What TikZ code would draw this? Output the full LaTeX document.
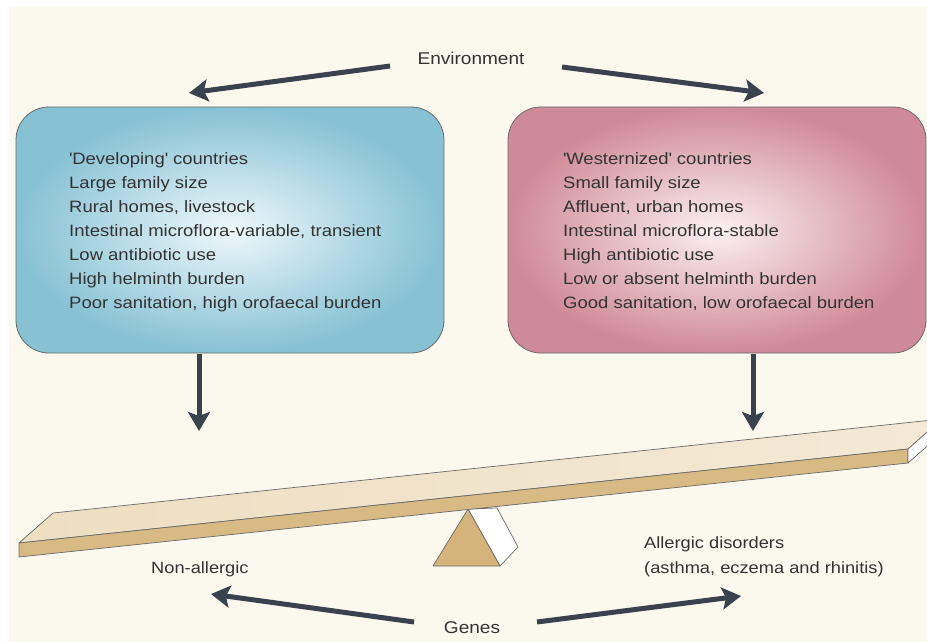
\documentclass[tikz,border=0pt]{standalone}
\usepackage{fontspec}
\setmainfont{Liberation Sans}[FakeStretch=1.12]
\usetikzlibrary{arrows.meta}
\definecolor{bgcream}{HTML}{FBF8EE}
\definecolor{blueout}{HTML}{86C1D4}
\definecolor{bluein}{HTML}{EEF8FB}
\definecolor{pinkout}{HTML}{CF8A97}
\definecolor{pinkin}{HTML}{FCF0F2}
\definecolor{arrowc}{HTML}{3A4250}
\definecolor{boardtopL}{HTML}{EEDFC2}
\definecolor{boardtopR}{HTML}{F3E9D5}
\definecolor{boardfront}{HTML}{D8BB84}
\definecolor{fulc}{HTML}{D5B47C}
\definecolor{outl}{HTML}{6A6A6A}
\definecolor{txt}{HTML}{333333}
\tikzset{
  bigarrow/.style={draw=arrowc, line width=5pt, -{Stealth[length=19pt,width=22pt,inset=4pt]}},
  boxtext/.style={anchor=base west, inner sep=0pt, text=txt, font=\fontsize{16.5}{24}\selectfont},
  lbl/.style={inner sep=0pt, text=txt, font=\fontsize{17}{24}\selectfont},
  sublbl/.style={anchor=base west, inner sep=0pt, text=txt, font=\fontsize{16.3}{24}\selectfont},
  solid3d/.style={draw=outl, line width=0.7pt, line join=round},
}
\begin{document}
\begin{tikzpicture}[x=1pt,y=-1pt]
\useasboundingbox (0,0) rectangle (927,642);
\fill[white] (0,0) rectangle (927,642);
\fill[bgcream] (9,7) rectangle (927,642);

% boxes
\shade[inner color=bluein, outer color=blueout, rounded corners=33pt] (16,107) rectangle (444,353);
\draw[outl, line width=0.8pt, rounded corners=33pt] (16,107) rectangle (444,353);
\shade[inner color=pinkin, outer color=pinkout, rounded corners=33pt] (508,107) rectangle (926,353);
\draw[outl, line width=0.8pt, rounded corners=33pt] (508,107) rectangle (926,353);

\node[boxtext] (d1) at (69,164) {\textquotesingle Developing\textquotesingle{} countries};
\node[boxtext] (d2) at (69,188) {Large family size};
\node[boxtext] (d3) at (69,212) {Rural homes, livestock};
\node[boxtext] (d4) at (69,236) {Intestinal microflora-variable, transient};
\node[boxtext] (d5) at (69,260) {Low antibiotic use};
\node[boxtext] (d6) at (69,284) {High helminth burden};
\node[boxtext] (d7) at (69,308) {Poor sanitation, high orofaecal burden};

\node[boxtext] (w1) at (563,164) {\textquotesingle Westernized\textquotesingle{} countries};
\node[boxtext] (w2) at (563,188) {Small family size};
\node[boxtext] (w3) at (563,212) {Affluent, urban homes};
\node[boxtext] (w4) at (563,236) {Intestinal microflora-stable};
\node[boxtext] (w5) at (563,260) {High antibiotic use};
\node[boxtext] (w6) at (563,284) {Low or absent helminth burden};
\node[boxtext] (w7) at (563,308) {Good sanitation, low orofaecal burden};

% top labels & arrows
\node[lbl] (env) at (471,58) {Environment};
\coordinate (envL) at (390,66);
\coordinate (envLt) at (189,93);
\coordinate (envR) at (562,67);
\coordinate (envRt) at (764,93);
\draw[bigarrow] (envL) -- (envLt);
\draw[bigarrow] (envR) -- (envRt);

% down arrows
\coordinate (dL0) at (199,354);
\coordinate (dL1) at (199,431);
\coordinate (dR0) at (753,354);
\coordinate (dR1) at (753,431);
\draw[bigarrow] (dL0) -- (dL1);
\draw[bigarrow] (dR0) -- (dR1);

% fulcrum
\filldraw[solid3d, fill=white] (468,509) -- (497,508) -- (518,547) -- (500,566) -- cycle;
\filldraw[solid3d, fill=fulc] (468,509) -- (433,566) -- (500,566) -- cycle;

% board
\shade[left color=boardtopL, right color=boardtopR] (19,543) -- (53,513) -- (942,419) -- (908,449) -- cycle;
\draw[solid3d] (19,543) -- (53,513) -- (942,419) -- (908,449) -- cycle;
\filldraw[solid3d, fill=boardfront] (19,543) -- (908,449) -- (908,463) -- (19,557) -- cycle;
\filldraw[solid3d, fill=white] (908,449) -- (942,419) -- (942,433) -- (908,463) -- cycle;

% bottom labels
\node[sublbl] (nonall) at (151,573) {Non-allergic};
\node[sublbl] (all1) at (644,548) {Allergic disorders};
\node[sublbl] (all2) at (644,573) {(asthma, eczema and rhinitis)};

\node[lbl] (genes) at (472,628) {Genes};
\coordinate (gL) at (414,622);
\coordinate (gLt) at (211,594);
\coordinate (gR) at (537,622);
\coordinate (gRt) at (741,596);
\draw[bigarrow] (gL) -- (gLt);
\draw[bigarrow] (gR) -- (gRt);
\end{tikzpicture}
\end{document}
